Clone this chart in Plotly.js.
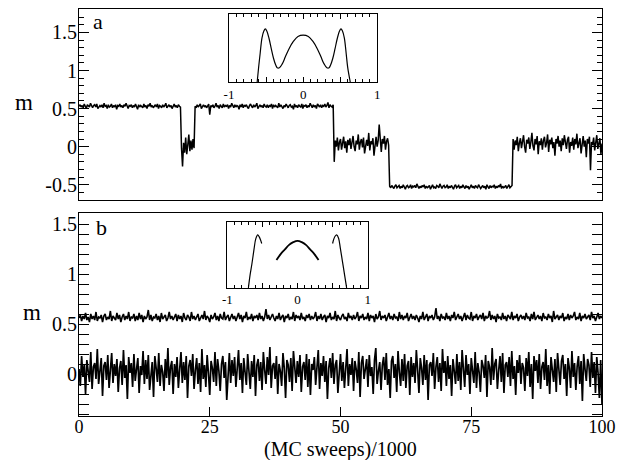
<!DOCTYPE html>
<html>
<head>
<meta charset="utf-8">
<script src="https://cdn.plot.ly/plotly-3.0.1.min.js"></script>
<style>html,body{margin:0;padding:0;background:#fff;}</style>
</head>
<body>
<div id="chart" style="width:618px;height:460px;"></div>
<script>
// ---------- DATA ----------
// Panel a: magnetisation trace, sampled every 0.2 (x1000 MC sweeps), segments in order
const aSeg1 = [.53,.55,.52,.54,.51,.56,.53,.50,.55,.54,
.52,.57,.53,.51,.54,.55,.52,.56,.50,.53,
.54,.52,.55,.51,.57,.53,.54,.50,.55,.52,
.53,.56,.51,.54,.52,.55,.49,.54,.53,.56,
.52,.54,.51,.55,.53,.57,.52,.50,.54,.53,
.55,.51,.54,.52,.56,.53,.49,.55,.52,.54,
.53,.51,.56,.52,.54,.50,.55,.53,.57,.52,
.54,.51,.53,.55,.52,.56,.50,.54,.53,.51,
.55,.52,.54,.57,.51,.53,.55,.52,.54,.50,
.53,.56,.52,.54,.51,.55,.53,.52];
const aSeg2 = [-.02,-.26,.05,-.08,.12,-.10,.02,.16,-.06,.08,-.04,.10,-.02];
const aSeg3 = [.53,.51,.55,.52,.54,.56,.50,.53,.55,.52,
.54,.51,.53,.56,.42,.54,.52,.55,.51,.53,
.57,.52,.54,.50,.55,.53,.51,.56,.52,.54,
.53,.55,.50,.54,.52,.57,.53,.51,.55,.52,
.54,.53,.49,.55,.52,.56,.51,.54,.53,.55,
.52,.50,.54,.56,.53,.51,.55,.52,.54,.57,
.50,.53,.55,.52,.54,.51,.56,.53,.52,.55,
.51,.54,.53,.56,.50,.55,.52,.54,.53,.51,
.57,.52,.55,.53,.50,.54,.52,.56,.53,.51,
.54,.55,.52,.53,.49,.56,.52,.54,.51,.55,
.53,.52,.56,.50,.54,.53,.55,.51,.54,.52,
.57,.53,.51,.55,.52,.54,.50,.56,.53,.52,
.55,.51,.54,.53,.56,.52,.54,.58,.51,.55,
.53,.52,.55];
const aSeg4 = [-.20,.08,.00,.12,-.05,.06,.10,-.04,.04,.13,
-.02,.07,-.08,.09,.02,.11,-.03,.05,.14,.00,
-.06,.08,.03,.16,-.04,.06,.10,-.01,.12,-.09,
.04,.09,.01,.18,-.05,.07,.03,.11,-.12,.05,
.13,.00,.08,.29,.02,-.07,.10,.04,.14,-.04,
.07,.11,.02];
const aSeg5 = [-.52,-.54,-.51,-.53,-.55,-.52,-.50,-.54,-.53,-.51,
-.55,-.52,-.54,-.50,-.53,-.56,-.52,-.51,-.54,-.53,
-.50,-.55,-.52,-.53,-.51,-.54,-.49,-.53,-.55,-.52,
-.54,-.51,-.53,-.50,-.55,-.52,-.54,-.53,-.51,-.56,
-.52,-.50,-.54,-.53,-.55,-.51,-.52,-.54,-.49,-.53,
-.55,-.52,-.51,-.54,-.53,-.50,-.55,-.52,-.54,-.51,
-.53,-.56,-.52,-.50,-.54,-.53,-.51,-.55,-.52,-.54,
-.50,-.53,-.55,-.51,-.54,-.52,-.56,-.53,-.50,-.54,
-.52,-.55,-.51,-.53,-.54,-.50,-.52,-.55,-.53,-.51,
-.54,-.52,-.56,-.50,-.53,-.55,-.51,-.54,-.52,-.53,
-.50,-.55,-.52,-.54,-.51,-.53,-.49,-.55,-.52,-.54,
-.53,-.51,-.55,-.52,-.50,-.54,-.53,-.51];
const aSeg6 = [.10,-.04,.08,.02,.13,-.06,.05,.11,-.02,.07,
.15,.00,-.08,.09,.04,.12,-.03,.06,.18,.01,
-.05,.10,.03,.14,-.10,.07,.02,.11,-.04,.08,
.13,-.01,.05,.16,-.07,.09,.03,.12,-.02,.06,
-.12,.10,.04,.14,.00,.08,-.06,.11,.02,.15,
.05,-.03,.09,.13,-.08,.06,.01,.12,-.04,.10,
.03,.17,-.02,.07,.11,-.09,.05,.14,.00,.08,
-.14,.10,.04,.13,-.31,.06,.02,.12,-.05,.09,
.15,-.03,.07,.11,-.10,.04];

// Panel b: two traces, sampled every 0.25 (x1000 MC sweeps)
const bUpper = [.56,.59,.53,.58,.55,.61,.54,.57,.52,.60,
.55,.58,.54,.62,.53,.57,.56,.59,.52,.58,
.60,.54,.57,.55,.63,.53,.58,.56,.54,.61,
.55,.59,.52,.57,.60,.54,.58,.55,.62,.53,
.57,.56,.60,.53,.58,.54,.61,.55,.59,.52,
.58,.55,.57,.64,.54,.59,.53,.57,.56,.60,
.54,.58,.52,.61,.55,.57,.59,.53,.56,.62,
.55,.58,.54,.57,.60,.53,.59,.55,.58,.52,
.61,.56,.54,.59,.57,.53,.62,.55,.58,.54,
.57,.60,.53,.56,.59,.55,.63,.54,.58,.56,
.52,.59,.55,.57,.61,.54,.58,.53,.60,.56,
.55,.62,.54,.57,.59,.53,.56,.60,.55,.58,
.53,.57,.61,.55,.59,.52,.58,.56,.62,.54,
.57,.55,.60,.53,.58,.56,.59,.54,.61,.55,
.58,.53,.57,.65,.55,.59,.54,.57,.60,.56,
.53,.58,.55,.61,.54,.57,.59,.52,.58,.56,
.60,.54,.57,.55,.62,.53,.59,.56,.58,.54,
.61,.55,.57,.53,.59,.56,.60,.54,.58,.55,
.57,.62,.53,.58,.55,.60,.54,.57,.59,.52,
.58,.56,.61,.54,.57,.55,.63,.53,.59,.56,
.54,.58,.60,.55,.57,.53,.61,.56,.58,.54,
.59,.55,.57,.62,.53,.58,.56,.60,.54,.57,
.55,.61,.53,.59,.56,.58,.52,.60,.55,.57,
.63,.54,.58,.56,.59,.53,.57,.61,.55,.58,
.54,.60,.56,.57,.53,.62,.55,.59,.54,.58,
.56,.61,.53,.57,.60,.55,.58,.54,.59,.56,
.52,.58,.55,.62,.54,.57,.60,.53,.58,.56,
.59,.54,.57,.66,.55,.58,.53,.60,.56,.57,
.54,.61,.55,.58,.53,.59,.56,.62,.54,.57,
.60,.55,.58,.53,.57,.61,.54,.59,.56,.55,
.62,.53,.58,.56,.60,.54,.57,.59,.55,.61,
.53,.58,.56,.57,.63,.54,.59,.55,.58,.52,
.60,.56,.57,.54,.61,.55,.58,.53,.59,.57,
.55,.62,.54,.58,.56,.60,.53,.57,.59,.55,
.58,.54,.61,.56,.57,.53,.60,.55,.62,.54,
.57,.59,.55,.58,.53,.61,.56,.57,.54,.60,
.56,.58,.52,.63,.55,.57,.59,.54,.58,.56,
.61,.53,.57,.55,.60,.54,.59,.56,.58,.62,
.54,.57,.55,.61,.53,.58,.56,.60,.55,.57,
.59,.54,.62,.56,.58,.53,.57,.61,.55,.58,
.56];
const bLower = [.05,-.12,.18,-.03,.09,-.20,.14,.02,-.08,.22,
-.15,.07,.11,-.05,.25,-.10,.03,.16,-.22,.08,
.12,-.06,.19,-.14,.04,.21,-.09,.10,-.02,.15,
-.18,.06,.13,-.11,.24,-.04,.09,-.25,.17,.01,
.11,-.13,.20,-.07,.05,.16,-.19,.08,-.01,.23,
-.10,.14,-.05,.19,-.16,.03,.12,-.23,.18,.06,
-.08,.21,-.12,.09,.02,-.17,.15,-.04,.26,-.11,
.07,.13,-.20,.10,-.03,.17,-.14,.05,.22,-.09,
.12,-.06,.18,-.24,.08,.14,-.02,.20,-.15,.04,
.16,-.10,.11,-.18,.25,-.05,.09,-.13,.19,.01,
-.21,.13,.06,-.08,.22,-.12,.15,.03,-.17,.10,
.18,-.04,.12,-.26,.07,.21,-.09,.14,-.02,.17,
-.13,.08,.24,-.06,.11,-.19,.16,.02,-.11,.20,
.05,-.15,.13,-.03,.19,-.22,.09,.15,-.07,.12,
-.16,.22,.04,-.10,.17,-.01,.27,-.14,.08,.11,
-.05,.18,-.20,.10,.03,-.12,.21,.06,-.24,.14,
.09,-.08,.16,-.17,.23,.01,-.09,.13,-.03,.19,
-.18,.07,.12,-.06,.20,-.13,.15,-.21,.10,.04,
.17,-.11,.08,.24,-.15,.11,-.02,.18,-.08,.13,
-.25,.06,.16,-.04,.21,-.10,.09,.14,-.19,.07,
.20,-.07,.12,-.14,.03,.25,-.12,.10,-.01,.16,
-.17,.13,.05,-.09,.22,-.23,.11,.18,-.05,.08,
.15,-.13,.19,-.02,.07,-.20,.14,.26,-.10,.03,
.12,-.16,.09,.17,-.06,.21,-.11,.05,-.24,.13,
.18,-.04,.10,-.18,.23,.02,-.12,.15,-.07,.20,
-.14,.08,.13,-.21,.17,-.03,.11,-.09,.24,.04,
-.19,.16,.06,-.11,.19,-.06,.14,-.26,.09,.12,
-.02,.21,-.15,.07,.17,-.08,.11,-.17,.25,.01,
.13,-.12,.18,-.05,.09,-.22,.15,.03,-.10,.20,
-.07,.12,-.16,.24,.05,-.13,.19,-.01,.10,-.20,
.16,.06,-.09,.22,-.14,.11,.02,-.18,.14,.08,
-.04,.19,-.23,.13,.07,-.11,.26,-.06,.10,.15,
-.15,.04,.18,-.08,.21,-.19,.09,.12,-.03,.17,
-.12,.23,-.05,.08,-.21,.14,.01,.19,-.10,.11,
.06,-.17,.16,-.02,.22,-.13,.10,-.25,.18,.03,
.14,-.09,.20,-.15,.07,.12,-.06,.25,-.12,.09,
-.20,.17,.04,-.08,.15,-.18,.21,.02,-.11,.13,
.19,-.05,.10,-.22,.16,.06,-.14,.23,-.03,.11,
-.16,.08,.18,-.10,.13,-.27,.20,.05,-.07,.15,
.09,-.13,.22,-.04,.12,-.19,.17,.01,-.24,.14,
-.30];

// Inset a curve (x = m, y = relative height in inset)
const insetAx = [-0.62,-0.60,-0.58,-0.555,-0.53,-0.51,-0.49,-0.46,-0.43,-0.40,-0.37,-0.35,-0.32,-0.28,-0.24,-0.19,-0.13,-0.07,0,0.07,0.13,0.19,0.24,0.28,0.32,0.35,0.37,0.40,0.43,0.46,0.49,0.51,0.53,0.555,0.58,0.60,0.635];
const insetAy = [0,0.22,0.42,0.65,0.75,0.78,0.75,0.64,0.49,0.35,0.25,0.21,0.21,0.27,0.37,0.49,0.60,0.67,0.69,0.67,0.60,0.49,0.37,0.27,0.21,0.21,0.25,0.35,0.49,0.64,0.75,0.78,0.75,0.65,0.42,0.22,0];
// Inset b curve: outer branches (gap between) and middle arc
const insetBsideX = [-0.70,-0.675,-0.65,-0.62,-0.595,-0.567,-0.545,-0.525,-0.51,null,0.50,0.515,0.535,0.558,0.585,0.61,0.64,0.67,0.70];
const insetBsideY = [0,0.20,0.36,0.58,0.74,0.80,0.77,0.72,0.67,null,0.67,0.73,0.78,0.80,0.75,0.60,0.40,0.20,0];
const insetBmidX = [-0.30,-0.24,-0.18,-0.12,-0.06,0,0.06,0.12,0.18,0.24,0.30];
const insetBmidY = [0.42,0.51,0.58,0.65,0.69,0.71,0.69,0.65,0.58,0.51,0.42];

// Tick labels and axis title
const xTickVals = [0,25,50,75,100];
const xTickText = ["0","25","50","75","100"];
const yTickValsA = [-0.5,0,0.5,1,1.5];
const yTickTextA = ["-0.5","0","0.5","1","1.5"];
const yTickValsB = [0,0.5,1,1.5];
const yTickTextB = ["0","0.5","1","1.5"];
const insetTickVals = [-1,-0.5,0,0.5,1];
const insetTickText = ["-1","","0","","1"];
const xTitle = "(MC sweeps)/1000";

// ---------- CHART ----------
const SERIF = "Liberation Serif";
const topY = [].concat(aSeg1, aSeg2, aSeg3, aSeg4, aSeg5, aSeg6);
const rangeA = [-0.705, 1.808];
const rangeB = [-0.42, 1.607];
const rangeX = [0, 100];

const traces = [
  {x0: 0, dx: 0.2, y: topY, xaxis: 'x', yaxis: 'y', type: 'scatter', mode: 'lines',
   line: {color: '#000', width: 1.5}, hoverinfo: 'skip'},
  {x0: 0, dx: 0.25, y: bUpper, xaxis: 'x2', yaxis: 'y2', type: 'scatter', mode: 'lines',
   line: {color: '#000', width: 1.6}, hoverinfo: 'skip'},
  {x0: 0, dx: 0.25, y: bLower, xaxis: 'x2', yaxis: 'y2', type: 'scatter', mode: 'lines',
   line: {color: '#000', width: 1.7}, hoverinfo: 'skip'},
  {x: insetAx, y: insetAy, xaxis: 'x3', yaxis: 'y3', type: 'scatter', mode: 'lines',
   line: {color: '#000', width: 1.2, shape: 'spline', smoothing: 1}, hoverinfo: 'skip'},
  {x: insetBsideX, y: insetBsideY, xaxis: 'x4', yaxis: 'y4', type: 'scatter', mode: 'lines',
   connectgaps: false, line: {color: '#000', width: 1.2, shape: 'spline', smoothing: 1}, hoverinfo: 'skip'},
  {x: insetBmidX, y: insetBmidY, xaxis: 'x4', yaxis: 'y4', type: 'scatter', mode: 'lines',
   line: {color: '#000', width: 1.8, shape: 'spline', smoothing: 1}, hoverinfo: 'skip'},
  // empty carriers so the label-only axes get drawn
  {x: [], y: [], xaxis: 'x5', yaxis: 'y2', type: 'scatter', mode: 'lines', hoverinfo: 'skip'},
  {x: [], y: [], xaxis: 'x', yaxis: 'y5', type: 'scatter', mode: 'lines', hoverinfo: 'skip'},
  {x: [], y: [], xaxis: 'x2', yaxis: 'y6', type: 'scatter', mode: 'lines', hoverinfo: 'skip'}
];

const frame = {showline: true, linecolor: '#000', linewidth: 1.2, showgrid: false, zeroline: false};
const yMain = (vals, range, domain, anchor) => Object.assign({}, frame, {
  domain: domain, range: range, anchor: anchor,
  tickmode: 'array', tickvals: vals, showticklabels: false,
  ticks: 'inside', ticklen: 10, tickwidth: 1, tickcolor: '#000', mirror: 'allticks',
  minor: {dtick: 0.1, tick0: 0, ticks: 'inside', ticklen: 5, tickwidth: 1, tickcolor: '#000'}
});
// label-only y axes, sitting on the frame line so the labels hug it
const yLabels = (vals, text, range, overlay) => ({
  overlaying: overlay, anchor: 'free', position: 0, side: 'left', range: range,
  tickmode: 'array', tickvals: vals, ticktext: text, ticks: '', ticklabelstandoff: 2,
  showline: false, showgrid: false, zeroline: false,
  tickfont: {family: SERIF, size: 20, color: '#000'}
});
const xInset = (domain, anchor) => Object.assign({}, frame, {
  domain: domain, anchor: anchor, range: [-1, 1], linewidth: 1,
  tickmode: 'array', tickvals: insetTickVals, ticktext: insetTickText,
  ticks: 'inside', ticklen: 5, tickwidth: 1, tickcolor: '#000', mirror: 'allticks',
  minor: {dtick: 0.1, tick0: 0, ticks: 'inside', ticklen: 3, tickwidth: 1, tickcolor: '#000'},
  tickfont: {family: SERIF, size: 13, color: '#000'}
});
const yInset = (domain, anchor) => Object.assign({}, frame, {
  domain: domain, anchor: anchor, range: [0, 1], linewidth: 1,
  ticks: '', showticklabels: false, mirror: true
});

const layout = {
  width: 618, height: 460,
  margin: {l: 79, r: 16, t: 9, b: 44, pad: 0},
  paper_bgcolor: '#fff', plot_bgcolor: 'rgba(0,0,0,0)',
  showlegend: false,
  font: {family: SERIF, color: '#000'},
  xaxis: Object.assign({}, frame, {domain: [0, 1], anchor: 'y', range: rangeX,
    ticks: '', showticklabels: false, mirror: true}),
  yaxis: yMain(yTickValsA, rangeA, [0.530, 1], 'x'),
  xaxis2: Object.assign({}, frame, {domain: [0, 1], anchor: 'y2', range: rangeX,
    tickmode: 'array', tickvals: xTickVals, showticklabels: false,
    ticks: 'inside', ticklen: 9, tickwidth: 1, tickcolor: '#000', mirror: true}),
  yaxis2: yMain(yTickValsB, rangeB, [0, 0.498], 'x2'),
  // label-only bottom axis just above the frame line
  xaxis5: {overlaying: 'x2', anchor: 'free', position: 0.0049, side: 'bottom', range: rangeX,
    tickmode: 'array', tickvals: xTickVals, ticktext: xTickText, ticks: '',
    showline: false, showgrid: false, zeroline: false,
    tickfont: {family: SERIF, size: 18, color: '#000'}},
  yaxis5: yLabels(yTickValsA, yTickTextA, rangeA, 'y'),
  yaxis6: yLabels(yTickValsB, yTickTextB, rangeB, 'y2'),
  xaxis3: xInset([0.2868, 0.5704], 'y3'),
  yaxis3: yInset([0.8206, 0.9877], 'x3'),
  xaxis4: xInset([0.2836, 0.5520], 'y4'),
  yaxis4: yInset([0.3150, 0.4774], 'x4'),
  annotations: [
    {text: xTitle, xref: 'paper', yref: 'paper', x: 0.5, y: -0.0817, xanchor: 'center', yanchor: 'middle',
     showarrow: false, font: {family: SERIF, size: 20, color: '#000'}},
    {text: 'm', xref: 'paper', yref: 'paper', x: -0.1052, y: 0.7703, xanchor: 'center', yanchor: 'middle',
     showarrow: false, font: {family: SERIF, size: 23, color: '#000'}},
    {text: 'm', xref: 'paper', yref: 'paper', x: -0.0899, y: 0.2543, xanchor: 'center', yanchor: 'middle',
     showarrow: false, font: {family: SERIF, size: 23, color: '#000'}},
    {text: 'a', xref: 'paper', yref: 'paper', x: 0.0363, y: 0.9705, xanchor: 'center', yanchor: 'middle',
     showarrow: false, font: {family: SERIF, size: 22, color: '#000'}},
    {text: 'b', xref: 'paper', yref: 'paper', x: 0.0421, y: 0.4631, xanchor: 'center', yanchor: 'middle',
     showarrow: false, font: {family: SERIF, size: 22, color: '#000'}}
  ]
};

Plotly.newPlot('chart', traces, layout, {displayModeBar: false, staticPlot: true});
</script>
</body>
</html>
